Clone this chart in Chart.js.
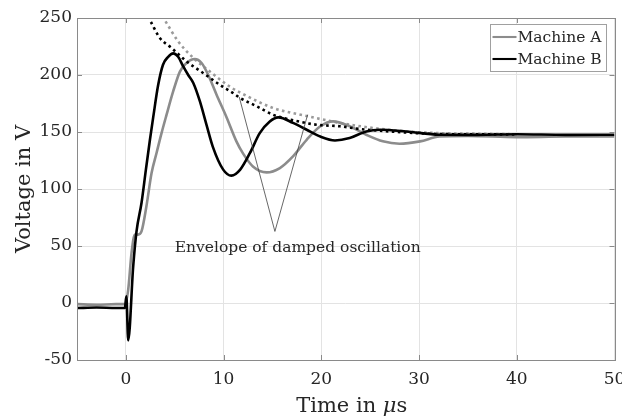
<!DOCTYPE html>
<html>
<head>
<meta charset="utf-8">
<script src="https://cdn.jsdelivr.net/npm/chart.js@4"></script>
<style>
  html, body { margin: 0; padding: 0; background: #fff; }
  #wrap { width: 622px; height: 419px; }
</style>
</head>
<body>
<div id="wrap"><canvas id="c"></canvas></div>
<script>
// Machine A (grey) - time in us, voltage in V
var tA = [-5, -3, -1, -0.1, 0.24, 0.58, 0.92, 1.26, 1.6, 2.1, 2.63, 3.14, 3.65, 4.16, 4.84, 5.53, 6.2, 7.06, 7.75, 8.43, 9.28, 10.3, 11.3, 12.0, 13.0, 14.4, 15.76, 17.1, 18.5, 19.9, 21.2, 22.9, 24.6, 26.3, 28, 30.1, 32.1, 35, 40, 45, 50];
var vA = [-1, -1.5, -1, -1, 11.7, 43.8, 60, 60, 62.8, 84.7, 114, 131.6, 149, 165, 185.6, 203, 210.5, 214, 210.5, 200, 182.7, 163, 142, 131, 119.8, 114.6, 118.4, 128.6, 143.2, 155, 159.3, 155, 147.6, 141.8, 139.7, 141.8, 146, 146.5, 145.5, 146, 146];

// Machine B (black)
var tB = [-5, -3, -1, -0.1, 0.05, 0.24, 0.75, 1.09, 1.6, 2.05, 2.46, 2.8, 3.3, 3.8, 4.33, 4.84, 5.35, 5.87, 6.38, 6.9, 7.57, 8.26, 8.9, 9.96, 10.8, 11.7, 12.7, 13.7, 14.7, 15.6, 17.1, 18.5, 19.9, 21.4, 22.9, 24.6, 26, 28.7, 32.1, 36, 40, 45, 50];
var vB = [-4.4, -4, -4.4, -4.4, 5.8, -32.8, 32, 62.8, 87.7, 117, 143, 163, 191, 209, 216, 219, 216, 207.5, 200, 193, 177, 156, 137, 117, 111.7, 117, 131.6, 149, 159, 162.8, 158, 152, 146, 142.6, 144.7, 150.5, 152, 150.5, 147.6, 147.5, 148, 147.5, 147.6];

// envelopes (dotted)
var tEnvA = [4.06, 5.35, 6.9, 8.6, 10.6, 12.5, 15.1, 18.5, 21.9, 25.3, 28.7, 32.1, 36, 40];
var vEnvA = [247, 229.5, 215, 203, 190, 181, 171, 164, 158, 153.5, 150.5, 149, 148.5, 148];
var tEnvB = [2.56, 3.48, 4.68, 6.2, 7.9, 9.6, 11.0, 11.67, 13.4, 15.1, 17.3, 19.5, 21.9, 23.95, 27, 32.1, 36, 40];
var vEnvB = [246.5, 232.5, 223.7, 212, 201.8, 191.5, 184, 180, 172.5, 165, 160, 156.4, 155, 152.6, 150.5, 148.2, 148, 147.8];

// annotation pointer lines
var tNote = [11.6, 15.25, 18.6];
var vNote = [180.7, 62.8, 165.2];
var noteText = "Envelope of damped oscillation";

var xTicks = [0, 10, 20, 30, 40, 50];
var yTicks = [-50, 0, 50, 100, 150, 200, 250];

var SERIF = "'DejaVu Serif', 'Liberation Serif', serif";
var INK = "#262626";

function pts(t, v) {
  return t.map(function (x, i) { return { x: x, y: v[i] }; });
}

var boxPlugin = {
  id: "box",
  afterDatasetsDraw: function (chart) {
    var ctx = chart.ctx;
    var a = chart.chartArea;
    var xs = chart.scales.x, ys = chart.scales.y;
    ctx.save();
    // inward ticks on all four sides
    ctx.strokeStyle = "#8a8a8a";
    ctx.lineWidth = 1;
    ctx.beginPath();
    xTicks.forEach(function (v) {
      var p = Math.round(xs.getPixelForValue(v)) + 0.5;
      ctx.moveTo(p, a.bottom); ctx.lineTo(p, a.bottom - 5);
      ctx.moveTo(p, a.top); ctx.lineTo(p, a.top + 5);
    });
    yTicks.forEach(function (v) {
      var p = Math.round(ys.getPixelForValue(v)) + 0.5;
      ctx.moveTo(a.left, p); ctx.lineTo(a.left + 5, p);
      ctx.moveTo(a.right, p); ctx.lineTo(a.right - 5, p);
    });
    ctx.stroke();
    ctx.strokeRect(Math.round(a.left) + 0.5, Math.round(a.top) + 0.5,
      Math.round(a.right - a.left), Math.round(a.bottom - a.top));

    // annotation text
    ctx.fillStyle = INK;
    ctx.font = "15.5px " + SERIF;
    ctx.textBaseline = "middle";
    ctx.textAlign = "left";
    ctx.fillText(noteText, xs.getPixelForValue(5.0), ys.getPixelForValue(48.5));

    // x axis title with italic mu
    var parts = [["Time in ", "21px "], ["μ", "italic 21px "], ["s", "21px "]];
    var total = 0;
    parts.forEach(function (p) { ctx.font = p[1] + SERIF; total += ctx.measureText(p[0]).width; });
    var tx = (a.left + a.right) / 2 + 6 - total / 2;
    ctx.textBaseline = "alphabetic";
    parts.forEach(function (p) {
      ctx.font = p[1] + SERIF;
      ctx.fillText(p[0], tx, 412);
      tx += ctx.measureText(p[0]).width;
    });

    // legend
    var lx = a.right - 125, ly = a.top + 6, lw = 116, lh = 47;
    ctx.textBaseline = "middle";
    ctx.fillStyle = "#fff";
    ctx.fillRect(lx, ly, lw, lh);
    ctx.strokeStyle = "#a0a0a0";
    ctx.strokeRect(Math.round(lx) + 0.5, Math.round(ly) + 0.5, lw, lh);
    var items = [chart.data.datasets[3], chart.data.datasets[2]];
    items.forEach(function (ds, i) {
      var yy = ly + 13 + i * 22;
      ctx.strokeStyle = ds.borderColor;
      ctx.lineWidth = ds.borderWidth - 0.5;
      ctx.beginPath();
      ctx.moveTo(lx + 3, yy); ctx.lineTo(lx + 27, yy);
      ctx.stroke();
      ctx.fillStyle = INK;
      ctx.font = "15.5px " + SERIF;
      ctx.fillText(ds.label, lx + 28, yy + 1);
    });
    ctx.restore();
  }
};

new Chart(document.getElementById("c"), {
  type: "scatter",
  data: {
    datasets: [
      { label: "note", data: pts(tNote, vNote), showLine: true, borderColor: "#404040", borderWidth: 0.8, pointRadius: 0, order: 0 },
      { label: "env B", data: pts(tEnvB, vEnvB), showLine: true, borderColor: "#000", borderWidth: 2.6, borderDash: [2.6, 3.4], pointRadius: 0, cubicInterpolationMode: "monotone", order: 1 },
      { label: "Machine B", data: pts(tB, vB), showLine: true, borderColor: "#000", borderWidth: 2.6, pointRadius: 0, cubicInterpolationMode: "monotone", order: 2 },
      { label: "Machine A", data: pts(tA, vA), showLine: true, borderColor: "#8c8c8c", borderWidth: 2.6, pointRadius: 0, cubicInterpolationMode: "monotone", order: 3 },
      { label: "env A", data: pts(tEnvA, vEnvA), showLine: true, borderColor: "#9a9a9a", borderWidth: 2.6, borderDash: [2.6, 3.4], pointRadius: 0, cubicInterpolationMode: "monotone", order: 4 }
    ]
  },
  options: {
    responsive: true,
    maintainAspectRatio: false,
    animation: false,
    layout: { padding: { top: 18, right: 7.5, left: 0, bottom: 0 } },
    plugins: { legend: { display: false }, tooltip: { enabled: false } },
    scales: {
      x: {
        type: "linear", min: -5, max: 50,
        afterBuildTicks: function (s) { s.ticks = xTicks.map(function (v) { return { value: v }; }); },
        afterFit: function (s) { s.height = 59; s.paddingLeft = 0; s.paddingRight = 0; },
        grid: { color: "#e3e3e3", drawTicks: false },
        border: { display: false },
        ticks: { color: INK, padding: 9, font: { family: SERIF, size: 17 } },
        title: { display: false }
      },
      y: {
        type: "linear", min: -50, max: 250,
        afterBuildTicks: function (s) { s.ticks = yTicks.map(function (v) { return { value: v }; }); },
        afterFit: function (s) { s.width = 77; s.paddingTop = 0; s.paddingBottom = 0; },
        grid: { color: "#e3e3e3", drawTicks: false },
        border: { display: false },
        ticks: { color: INK, padding: 5, font: { family: SERIF, size: 17 } },
        title: { display: true, text: "Voltage in V", color: INK, padding: { top: 12, bottom: 0 }, font: { family: SERIF, size: 21 } }
      }
    }
  },
  plugins: [boxPlugin]
});
</script>
</body>
</html>
